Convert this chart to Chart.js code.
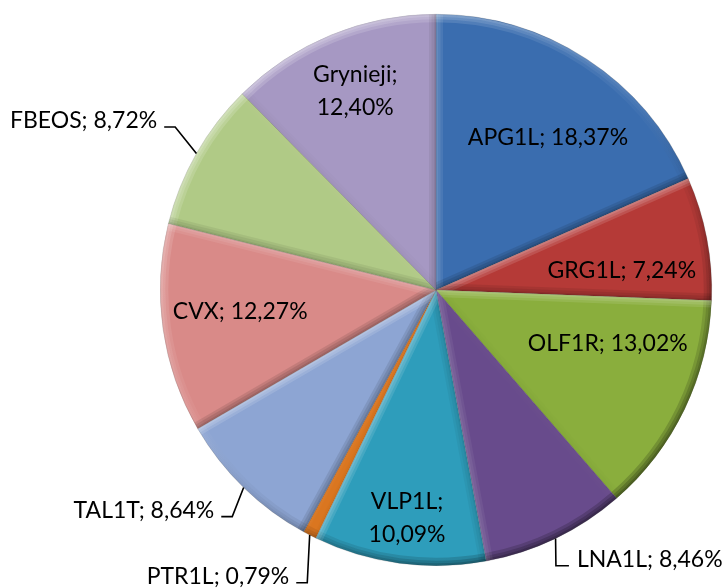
<!DOCTYPE html>
<html>
<head>
<meta charset="utf-8">
<script src="https://cdn.jsdelivr.net/npm/chart.js@4/dist/chart.umd.min.js"></script>
<style>
  html, body { margin: 0; padding: 0; background: #fff; }
  canvas { display: block; }
</style>
</head>
<body>
<canvas id="c" width="723" height="588"></canvas>
<script>
// ---- data ----
const categories = ['APG1L', 'GRG1L', 'OLF1R', 'LNA1L', 'VLP1L', 'PTR1L', 'TAL1T', 'CVX', 'FBEOS', 'Grynieji'];
const shares = [18.37, 7.24, 13.02, 8.46, 10.09, 0.79, 8.64, 12.27, 8.72, 12.40];

// ---- styles ----
const sliceColors = ['#3A6DAF', '#B53A37', '#8AAE3D', '#684B8C', '#2E9DBB', '#DA7620', '#8DA5D3', '#D98A88', '#B0CA86', '#A698C3'];
// label placement (relative to pie centre, in units of the radius)
const labelLayout = [
  { mode: 'in', dx: 0.406, dy: -0.554 },
  { mode: 'in', dx: 0.674, dy: -0.072 },
  { mode: 'in', dx: 0.623, dy: 0.196 },
  { mode: 'out', side: 'right', ex: 0.435, ey: 1.000 },
  { mode: 'in', dx: -0.105, dy: 0.826, wrap: true },
  { mode: 'out', side: 'left', ex: -0.467, ey: 1.062 },
  { mode: 'out', side: 'left', ex: -0.739, ey: 0.822 },
  { mode: 'in', dx: -0.710, dy: 0.080 },
  { mode: 'out', side: 'left', ex: -0.946, ey: -0.591 },
  { mode: 'in', dx: -0.293, dy: -0.721, wrap: true }
];
const FONT = '23px Lato, "Open Sans", sans-serif';

function fmt(v) { return v.toFixed(2).replace('.', ',') + '%'; }

const bevelPlugin = {
  id: 'bevel',
  afterDatasetsDraw(chart) {
    const ctx = chart.ctx;
    const meta = chart.getDatasetMeta(0);
    const L = { x: -0.6, y: -0.8 };
    meta.data.forEach((arc) => {
      const { x, y, startAngle: s, endAngle: e, outerRadius: R } = arc;
      const span = e - s;
      const k = Math.min(1, span / 0.3);
      ctx.save();
      ctx.beginPath();
      ctx.moveTo(x, y);
      ctx.arc(x, y, R, s, e);
      ctx.closePath();
      ctx.clip();
      // outer rim
      const g = ctx.createLinearGradient(x - R * 0.6, y - R * 0.8, x + R * 0.6, y + R * 0.8);
      g.addColorStop(0, 'rgba(255,255,255,0.16)');
      g.addColorStop(0.45, 'rgba(255,255,255,0.03)');
      g.addColorStop(0.6, 'rgba(0,0,0,0.03)');
      g.addColorStop(1, 'rgba(0,0,0,0.18)');
      ctx.strokeStyle = g;
      [16, 10, 5].forEach(w => {
        ctx.lineWidth = w;
        ctx.beginPath();
        ctx.arc(x, y, R, s, e);
        ctx.stroke();
      });
      // radial edges
      const edges = [
        { a: s, n: { x: Math.sin(s), y: -Math.cos(s) } },
        { a: e, n: { x: -Math.sin(e), y: Math.cos(e) } }
      ];
      edges.forEach(ed => {
        const d = ed.n.x * L.x + ed.n.y * L.y;
        const col = d > 0 ? `rgba(255,255,255,${0.13 * d * k})` : `rgba(0,0,0,${0.1 * -d * k})`;
        ctx.strokeStyle = col;
        [14, 9, 4].forEach(w => {
          ctx.lineWidth = w * (0.4 + 0.6 * k);
          ctx.beginPath();
          ctx.moveTo(x, y);
          ctx.lineTo(x + R * Math.cos(ed.a), y + R * Math.sin(ed.a));
          ctx.stroke();
        });
      });
      ctx.restore();
    });
  }
};

const labelPlugin = {
  id: 'sliceLabels',
  afterDraw(chart) {
    const ctx = chart.ctx;
    const meta = chart.getDatasetMeta(0);
    ctx.save();
    ctx.font = FONT;
    ctx.fillStyle = '#000';
    ctx.strokeStyle = '#000';
    ctx.lineWidth = 1.6;
    ctx.textBaseline = 'middle';
    meta.data.forEach((arc, i) => {
      const { x, y, startAngle: s, endAngle: e, outerRadius: R } = arc;
      const lay = labelLayout[i];
      const name = categories[i] + ';';
      const val = fmt(shares[i]);
      if (lay.mode === 'in') {
        const cx = x + lay.dx * R, cy = y + lay.dy * R;
        ctx.textAlign = 'center';
        if (lay.wrap) {
          ctx.fillText(name, cx, cy - 16.5);
          ctx.fillText(val, cx, cy + 16.5);
        } else {
          ctx.fillText(name + ' ' + val, cx, cy);
        }
      } else {
        const mid = (s + e) / 2;
        const px = x + R * Math.cos(mid), py = y + R * Math.sin(mid);
        const ex = x + lay.ex * R, ey = y + lay.ey * R;
        const dir = lay.side === 'left' ? -1 : 1;
        const hx = ex + dir * (lay.side === 'left' ? 11 : 13);
        ctx.beginPath();
        ctx.moveTo(px, py);
        ctx.lineTo(ex, ey);
        ctx.lineTo(hx, ey);
        ctx.stroke();
        ctx.textAlign = lay.side === 'left' ? 'right' : 'left';
        ctx.fillText(name + ' ' + val, ex + dir * (lay.side === 'left' ? 18 : 21), ey - 6);
      }
    });
    ctx.restore();
  }
};

new Chart(document.getElementById('c'), {
  type: 'pie',
  data: {
    labels: categories,
    datasets: [{
      data: shares,
      backgroundColor: sliceColors,
      borderColor: 'rgba(40,40,40,0.3)',
      borderWidth: 0.6
    }]
  },
  options: {
    responsive: false,
    animation: false,
    layout: { padding: { left: 160, right: 11, top: 14, bottom: 22 } },
    plugins: {
      legend: { display: false },
      tooltip: { enabled: false }
    }
  },
  plugins: [bevelPlugin, labelPlugin]
});
</script>
</body>
</html>
